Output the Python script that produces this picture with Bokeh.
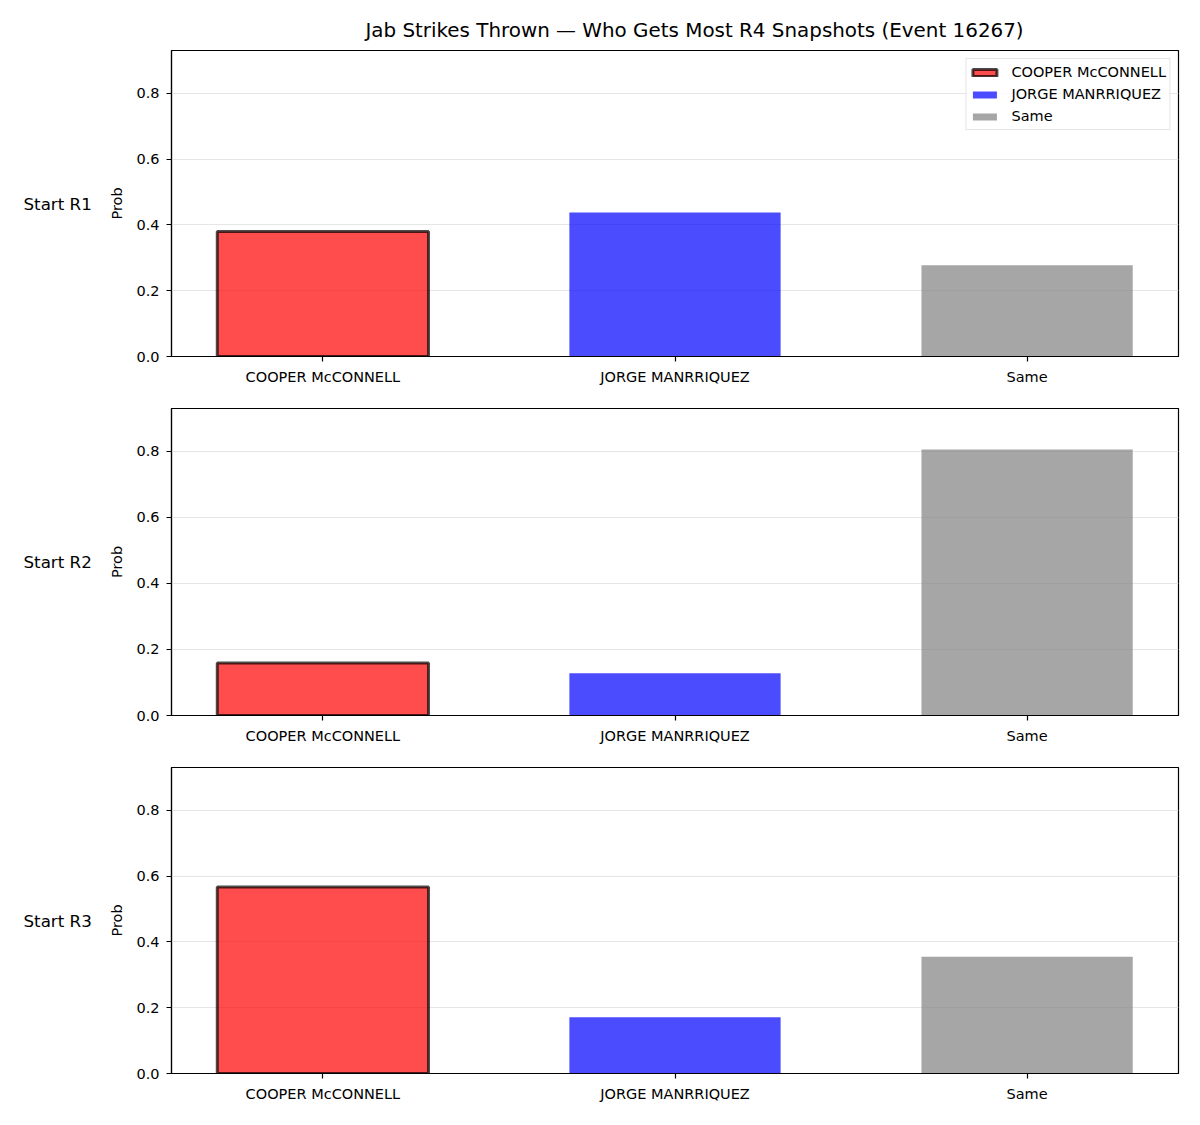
from bokeh.plotting import figure
from bokeh.layouts import column, row
from bokeh.models import Range1d, FixedTicker, Legend, LegendItem, PrintfTickFormatter
from bokeh.core.properties import value
from bokeh.embed import file_html
from bokeh.resources import INLINE

# Outcome categories and probabilities per starting round
categories = ["COOPER McCONNELL", "JORGE MANRRIQUEZ", "Same"]
rounds = ["Start R1", "Start R2", "Start R3"]
probs_r1 = [0.380, 0.438, 0.277]
probs_r2 = [0.159, 0.128, 0.806]
probs_r3 = [0.567, 0.171, 0.355]
y_ticks = [0.0, 0.2, 0.4, 0.6, 0.8]
title_text = "Jab Strikes Thrown \u2014 Who Gets Most R4 Snapshots (Event 16267)"

bar_colors = ["red", "blue", "gray"]
FONT = "DejaVu Sans"
SMALL = "14.5px"
Y_MAX = 0.93
X_LO, X_HI = -0.43, 2.43
SIDE_W = 100


def blank(p):
    p.outline_line_color = None
    p.xaxis.visible = False
    p.yaxis.visible = False
    p.xgrid.visible = False
    p.ygrid.visible = False
    p.background_fill_color = "white"
    p.border_fill_color = "white"


# Title strip across the top
title_fig = figure(width=1200, height=50, x_range=Range1d(0, 1200), y_range=Range1d(0, 50),
                   min_border=0, output_backend="svg", toolbar_location=None)
blank(title_fig)
title_fig.text(x=[694], y=[20], text=[title_text], text_font=value(FONT),
               text_font_size="19.9px", text_align="center", text_baseline="middle",
               text_color="black")

panel_probs = [probs_r1, probs_r2, probs_r3]
borders = [(0, 36), (16, 36), (16, 36)]
frame_heights = [306, 307, 306]

rows = [title_fig]
for i, (label, probs) in enumerate(zip(rounds, panel_probs)):
    top, bottom = borders[i]

    # side strip carrying the row label
    side = figure(frame_width=SIDE_W, frame_height=frame_heights[i],
                  min_border_left=0, min_border_right=0,
                  min_border_top=top, min_border_bottom=bottom,
                  x_range=Range1d(0, SIDE_W), y_range=Range1d(0, Y_MAX),
                  output_backend="svg", toolbar_location=None)
    blank(side)
    side.text(x=[23], y=[Y_MAX / 2], text=[label], text_font=value(FONT),
              text_font_size="16.7px", text_align="left", text_baseline="middle",
              text_color="black")

    p = figure(frame_width=1007, frame_height=frame_heights[i],
               min_border_left=171 - SIDE_W, min_border_right=22,
               min_border_top=top, min_border_bottom=bottom,
               x_range=Range1d(X_LO, X_HI), y_range=Range1d(0, Y_MAX),
               output_backend="svg", toolbar_location=None)
    p.outline_line_color = "black"
    p.outline_line_width = 1.2
    p.background_fill_color = "white"
    p.border_fill_color = "white"
    p.xgrid.visible = False
    p.ygrid.grid_line_color = "#e6e6e6"
    p.ygrid.grid_line_width = 1
    p.ygrid.ticker = FixedTicker(ticks=y_ticks)

    renderers = []
    for j, cat in enumerate(categories):
        if j == 0:
            r = p.vbar(x=[j], top=[probs[j]], width=0.6, bottom=0,
                       fill_color=bar_colors[j], fill_alpha=0.7,
                       line_color="black", line_alpha=0.7, line_width=3)
        else:
            r = p.vbar(x=[j], top=[probs[j]], width=0.6, bottom=0,
                       fill_color=bar_colors[j], fill_alpha=0.7,
                       line_color=None)
        renderers.append(r)

    if i == 0:
        legend = Legend(items=[LegendItem(label=c, renderers=[r]) for c, r in zip(categories, renderers)],
                        location="top_right", margin=8, padding=3, spacing=2,
                        glyph_width=30, glyph_height=9, label_standoff=12,
                        label_text_font=FONT, label_text_font_size=SMALL,
                        label_text_color="black",
                        label_height=20, border_line_color="#cccccc",
                        border_line_width=1, background_fill_alpha=0.8)
        p.add_layout(legend, "center")

    # axes
    p.xaxis.ticker = FixedTicker(ticks=[0, 1, 2])
    p.xaxis.major_label_overrides = {j: c for j, c in enumerate(categories)}
    p.yaxis.ticker = FixedTicker(ticks=y_ticks)
    p.yaxis.formatter = PrintfTickFormatter(format="%.1f")
    p.yaxis.axis_label = "Prob"
    for ax in (p.xaxis[0], p.yaxis[0]):
        ax.axis_line_color = "black"
        ax.axis_line_width = 1.2
        ax.major_tick_line_color = "black"
        ax.major_tick_line_width = 1.2
        ax.major_tick_out = 5
        ax.major_tick_in = 0
        ax.minor_tick_out = 0
        ax.minor_tick_in = 0
        ax.major_label_text_font = FONT
        ax.major_label_text_font_size = SMALL
        ax.major_label_text_color = "black"
    p.xaxis.major_label_standoff = 7
    p.yaxis.major_label_standoff = 7
    p.yaxis.axis_label_text_font = FONT
    p.yaxis.axis_label_text_font_size = SMALL
    p.yaxis.axis_label_text_font_style = "normal"
    p.yaxis.axis_label_text_color = "black"
    p.yaxis.axis_label_standoff = 8

    rows.append(row(side, p, spacing=0))

layout = column(*rows, spacing=0)
open("out.html", "w").write(file_html(layout, INLINE))
